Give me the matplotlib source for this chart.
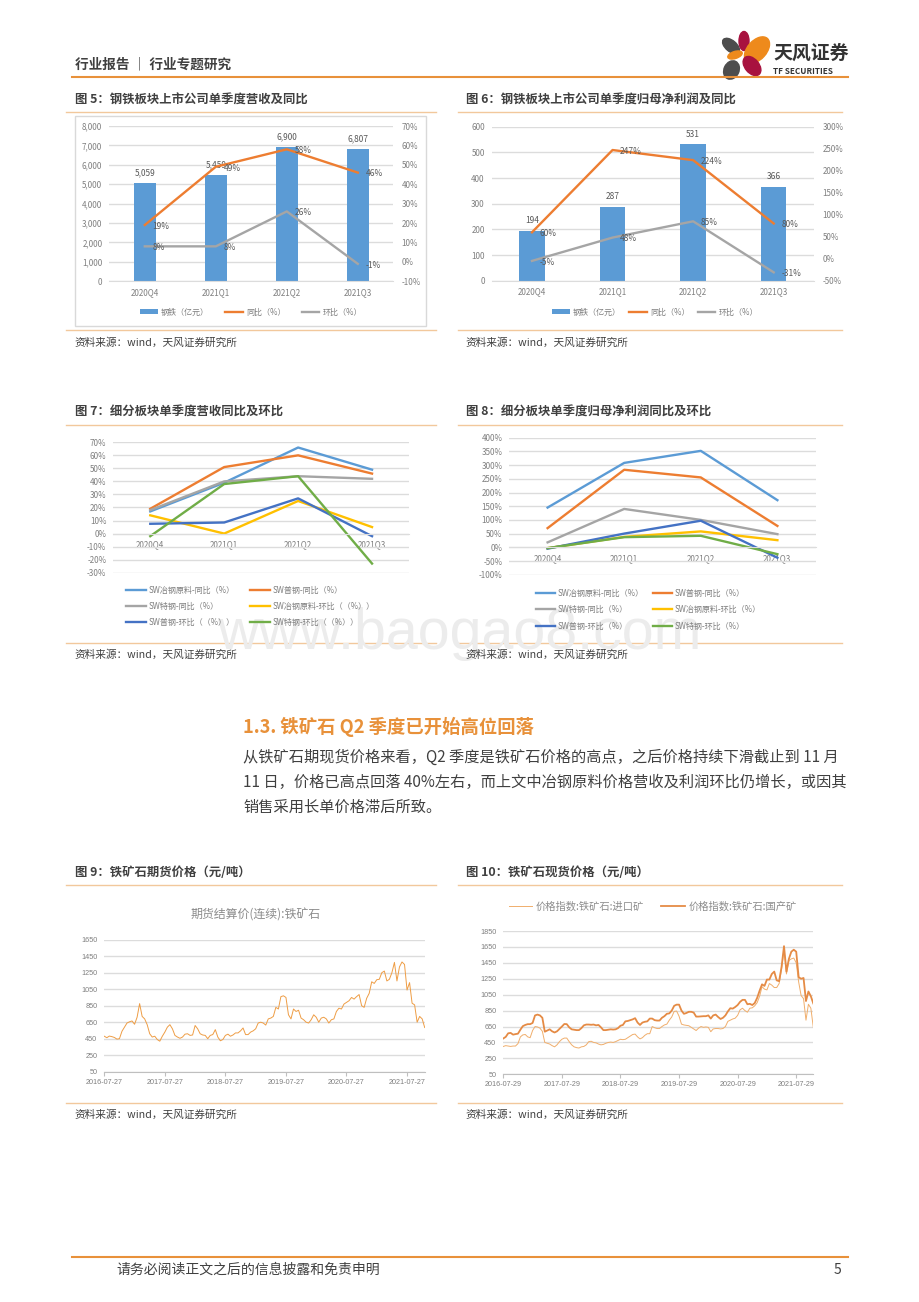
import numpy as np
import pandas as pd
import matplotlib
matplotlib.use('Agg')
import matplotlib.pyplot as plt
from matplotlib.patches import Ellipse, Rectangle

plt.rcParams['font.family'] = ['Noto Sans CJK SC', 'DejaVu Sans']

FIG_W, FIG_H = 920, 1302
TEXT = '#404040'
TICK = '#7f7f7f'
GRID = '#dcdcdc'
ORANGE = '#e8913a'
PALE = '#f2c89c'

quarters = ['2020Q4', '2021Q1', '2021Q2', '2021Q3']

# figure 5
revenue = [5059, 5459, 6900, 6807]
revenue_yoy = [19, 49, 58, 46]
revenue_qoq = [8, 8, 26, -1]

# figure 6
profit = [194, 287, 531, 366]
profit_yoy = [60, 247, 224, 80]
profit_qoq = [-5, 48, 85, -31]

# figure 7
rev_raw_yoy = [17, 39, 66, 49]
rev_common_yoy = [19, 51, 60, 46]
rev_special_yoy = [18, 40, 44, 42]
rev_raw_qoq = [14, 0, 25, 5]
rev_common_qoq = [7.5, 8.5, 27, -2]
rev_special_qoq = [-2, 38, 44, -23]

# figure 8
pro_raw_yoy = [145, 308, 352, 172]
pro_common_yoy = [70, 283, 255, 78]
pro_special_yoy = [18, 140, 100, 48]
pro_raw_qoq = [-3, 38, 58, 26]
pro_common_qoq = [-5, 50, 97, -38]
pro_special_qoq = [-3, 37, 42, -25]

labels_rev = ['SW冶钢原料-同比（%）', 'SW普钢-同比（%）', 'SW特钢-同比（%）',
              'SW冶钢原料-环比（（%））', 'SW普钢-环比（（%））', 'SW特钢-环比（（%））']
labels_pro = ['SW冶钢原料-同比（%）', 'SW普钢-同比（%）', 'SW特钢-同比（%）',
              'SW冶钢原料-环比（%）', 'SW普钢-环比（%）', 'SW特钢-环比（%）']
line_colors = ['#5b9bd5', '#ed7d31', '#a5a5a5', '#ffc000', '#4472c4', '#70ad47']

# figure 9, roughly twice a month
futures = [480, 462, 482, 475, 465, 445, 450, 540, 590, 640, 655, 665, 625, 710, 875, 720,
           690, 620, 510, 470, 480, 440, 420, 480, 530, 590, 620, 570, 490, 470, 455, 470,
           505, 510, 490, 495, 610, 570, 510, 495, 490, 450, 490, 500, 560, 470, 425, 440,
           490, 505, 480, 495, 520, 520, 545, 580, 500, 500, 530, 545, 570, 640, 650, 640,
           615, 690, 700, 720, 830, 810, 960, 970, 950, 740, 690, 810, 780, 795, 700, 680,
           650, 640, 680, 740, 710, 650, 700, 710, 690, 640, 680, 690, 780, 820, 810, 870,
           890, 910, 950, 930, 960, 985, 850, 830, 940, 1000, 1140, 1120, 1165, 1170, 1250, 1270,
           1150, 1170, 1250, 1375, 1150, 1320, 1380, 1350, 1040, 1130, 880, 860, 650, 720, 690, 585]

# figure 10, roughly twice a month
spot_import = [400, 410, 405, 400, 405, 405, 435, 520, 545, 550, 520, 510, 600, 650, 645, 630,
               590, 450, 440, 430, 410, 395, 420, 460, 490, 505, 505, 460, 420, 395, 385, 380,
               395, 400, 420, 460, 465, 450, 445, 430, 420, 425, 440, 450, 455, 450, 460, 475,
               490, 485, 490, 510, 530, 550, 555, 520, 495, 510, 540, 560, 560, 650, 635, 625,
               625, 650, 670, 680, 730, 770, 840, 845, 780, 680, 670, 665, 660, 640, 620, 600,
               630, 650, 640, 645, 640, 585, 620, 625, 625, 620, 625, 650, 715, 730, 745, 755,
               790, 860, 880, 850, 830, 880, 885, 910, 950, 1030, 1150, 1120, 1110, 1190, 1170, 1140,
               1140, 1190, 1370, 1620, 1310, 1480, 1500, 1510, 1450, 1210, 1040, 1000, 730, 930, 880, 640]
spot_domestic = [500, 520, 565, 570, 548, 555, 560, 610, 655, 670, 680, 680, 695, 790, 800, 790,
                 760, 585, 600, 615, 590, 575, 590, 620, 650, 682, 680, 640, 615, 610, 605, 605,
                 630, 665, 675, 675, 672, 675, 665, 670, 640, 605, 605, 610, 615, 612, 615, 630,
                 660, 670, 715, 720, 730, 740, 755, 700, 670, 700, 710, 715, 750, 750, 730, 725,
                 725, 760, 780, 810, 815, 850, 910, 925, 925, 850, 810, 820, 835, 835, 825, 775,
                 775, 778, 780, 780, 790, 750, 790, 800, 770, 745, 760, 790, 840, 880, 875, 895,
                 920, 960, 985, 985, 930, 935, 920, 945, 1010, 1100, 1180, 1160, 1240, 1240, 1310, 1340,
                 1230, 1220, 1400, 1660, 1340, 1500, 1590, 1615, 1590, 1270, 1250, 1260, 970, 1090, 1030, 940]

futures_ticks = ['2016-07-27', '2017-07-27', '2018-07-27', '2019-07-27', '2020-07-27', '2021-07-27']
spot_ticks = ['2016-07-29', '2017-07-29', '2018-07-29', '2019-07-29', '2020-07-29', '2021-07-29']

body_lines = ['从铁矿石期现货价格来看，Q2 季度是铁矿石价格的高点，之后价格持续下滑截止到 11 月',
              '11 日，价格已高点回落 40%左右，而上文中冶钢原料价格营收及利润环比仍增长，或因其',
              '销售采用长单价格滞后所致。']


# axes placed by pixel box on the page
def add_box(fig, left, top, right, bottom):
    ax = fig.add_axes([left / FIG_W, 1 - bottom / FIG_H, (right - left) / FIG_W, (bottom - top) / FIG_H])
    ax.patch.set_alpha(0)
    ax.set_zorder(2)
    return ax


def style_axis(ax, size=5.8):
    for side in ['top', 'left', 'right']:
        ax.spines[side].set_visible(False)
    ax.spines['bottom'].set_color(GRID)
    ax.tick_params(length=0, labelsize=size, labelcolor=TICK)
    ax.yaxis.grid(True, color=GRID, lw=1)
    ax.set_axisbelow(True)


def draw_page(page):
    page.set_xlim(0, FIG_W)
    page.set_ylim(FIG_H, 0)
    page.axis('off')

    # watermark
    page.text(459, 634, 'www.baogao8.com', color='#ececec', fontsize=41.3, family='Liberation Sans',
              ha='center', va='center')

    # header and logo
    page.text(75, 64, '行业报告 ｜ 行业专题研究', color=TEXT, fontsize=9.8, weight='bold', va='center')
    page.plot([72, 848], [77, 77], color=ORANGE, lw=1.5)
    page.add_patch(Ellipse((731, 46), 11, 20, angle=-50, color='#4d4d4d'))
    page.add_patch(Ellipse((744, 41), 10, 19, angle=0, color='#a8123f'))
    page.add_patch(Ellipse((757, 50), 19, 31, angle=42, color='#ee8a1c'))
    page.add_patch(Ellipse((735, 55), 7, 15, angle=72, color='#ee8a1c'))
    page.add_patch(Ellipse((752, 66), 14, 22, angle=-40, color='#a8123f'))
    page.add_patch(Ellipse((731.5, 70), 15, 19, angle=25, color='#4d4d4d'))
    page.text(773, 53, '天风证券', color='#333333', fontsize=13.6, weight='bold', va='center')
    page.text(773, 71, 'TF SECURITIES', color='#333333', fontsize=5.9, weight='bold', va='center')

    # figure titles, rules and source notes
    titles = [(75, 100, 112, 330, 343, 66, 436, '图 5：钢铁板块上市公司单季度营收及同比'),
              (466, 100, 112, 330, 343, 458, 842, '图 6：钢铁板块上市公司单季度归母净利润及同比'),
              (75, 412, 424.5, 642.5, 655, 66, 436, '图 7：细分板块单季度营收同比及环比'),
              (466, 412, 424.5, 642.5, 655, 458, 842, '图 8：细分板块单季度归母净利润同比及环比'),
              (75, 872, 884.5, 1102.5, 1115, 66, 436, '图 9：铁矿石期货价格（元/吨）'),
              (466, 872, 884.5, 1102.5, 1115, 458, 842, '图 10：铁矿石现货价格（元/吨）')]
    for x, y_title, y_top, y_bottom, y_source, x0, x1, title in titles:
        page.text(x, y_title, title, color=TEXT, fontsize=8.9, weight='bold', va='center')
        page.plot([x0, x1], [y_top, y_top], color=PALE, lw=1)
        page.plot([x0, x1], [y_bottom, y_bottom], color=PALE, lw=1)
        page.text(x - 0.5, y_source, '资料来源：wind，天风证券研究所', color=TEXT, fontsize=7.7, va='center')

    page.add_patch(Rectangle((75.5, 115.5), 351, 210.5, fill=False, ec='#d9d9d9', lw=1))

    # section text
    page.text(243, 727, '1.3. 铁矿石 Q2 季度已开始高位回落', color=ORANGE, fontsize=13.2, weight='bold', va='center')
    for y, line in zip([757, 782, 807], body_lines):
        page.text(243, y, line, color=TEXT, fontsize=10.95, va='center')

    # footer
    page.plot([72, 848], [1257, 1257], color=ORANGE, lw=1.5)
    page.text(116, 1270, '请务必阅读正文之后的信息披露和免责申明', color=TEXT, fontsize=10, va='center')
    page.text(837, 1270, '5', color=TEXT, fontsize=10, va='center', ha='center')


# bars on the left axis, yoy and qoq lines on the right axis
def draw_combo(fig, page, box, bars, yoy, qoq, left_lim, left_ticks, right_lim, right_ticks,
               bar_width, bar_fmt, legend_pos, col_space):
    ax = add_box(fig, *box)
    style_axis(ax)
    x = np.arange(len(quarters))
    bar = ax.bar(x, bars, width=bar_width, color='#5b9bd5', label='钢铁（亿元）')
    ax.bar_label(bar, labels=[bar_fmt.format(v) for v in bars], padding=4, fontsize=6, color='#595959')
    ax.set_xlim(-0.5, 3.5)
    ax.set_ylim(*left_lim)
    ax.set_yticks(left_ticks)
    ax.set_yticklabels(['{:,}'.format(v) for v in left_ticks])
    ax.set_xticks(x)
    ax.set_xticklabels(quarters)
    ax.tick_params(axis='x', pad=5)
    ax.tick_params(axis='y', pad=5)

    ax2 = ax.twinx()
    ax2.patch.set_alpha(0)
    for side in ['top', 'left', 'right', 'bottom']:
        ax2.spines[side].set_visible(False)
    ax2.tick_params(length=0, labelsize=5.8, labelcolor=TICK, pad=6)
    line1, = ax2.plot(x, yoy, color='#ed7d31', lw=1.7, label='同比（%）')
    line2, = ax2.plot(x, qoq, color='#a5a5a5', lw=1.7, label='环比（%）')
    ax2.set_ylim(*right_lim)
    ax2.set_yticks(right_ticks)
    ax2.set_yticklabels(['{}%'.format(v) for v in right_ticks])
    for series in [yoy, qoq]:
        for xi, v in zip(x, series):
            ax2.annotate('{}%'.format(v), (xi, v), xytext=(5.5, -1), textcoords='offset points',
                         fontsize=6, color='#595959', va='center')

    ax2.set_zorder(3)
    leg = ax2.legend([bar, line1, line2], ['钢铁（亿元）', '同比（%）', '环比（%）'], ncol=3, loc='center',
                     bbox_to_anchor=legend_pos, bbox_transform=page.transData, frameon=False, fontsize=5.8,
                     handlelength=2.2, handleheight=0.5, handletextpad=0.4, columnspacing=col_space, borderpad=0)
    for text in leg.get_texts():
        text.set_color(TICK)


# six lines with the category labels sitting on the zero line
def draw_lines(fig, page, box, series, names, y_lim, y_ticks, legend_pos, col_space, row_space):
    ax = add_box(fig, *box)
    style_axis(ax)
    x = np.arange(len(quarters))
    handles = []
    for values, color in zip(series, line_colors):
        line, = ax.plot(x, values, color=color, lw=1.7)
        handles.append(line)
    ax.set_xlim(-0.5, 3.5)
    ax.set_ylim(*y_lim)
    ax.set_yticks(y_ticks)
    ax.set_yticklabels(['{}%'.format(v) for v in y_ticks])
    ax.set_xticks(x)
    ax.set_xticklabels(quarters)
    ax.spines['bottom'].set_position(('data', 0))
    ax.tick_params(axis='x', pad=5)
    ax.tick_params(axis='y', pad=5)

    order = [0, 2, 4, 1, 3, 5]
    leg = ax.legend([handles[i] for i in order], [names[i] for i in order], ncol=2, loc='upper left',
                    bbox_to_anchor=legend_pos, bbox_transform=page.transData, frameon=False, fontsize=5.8,
                    handlelength=2.4, handletextpad=0.3, columnspacing=col_space, labelspacing=row_space,
                    borderpad=0, borderaxespad=0)
    for text in leg.get_texts():
        text.set_color(TICK)


# daily style price chart on a date axis
def draw_prices(fig, box, start, end, series, colors, widths, y_lim, y_ticks, tick_dates):
    ax = add_box(fig, *box)
    style_axis(ax, size=5.2)
    dates = pd.date_range(start, end, periods=len(series[0]))
    lines = []
    for values, color, lw in zip(series, colors, widths):
        line, = ax.plot(dates, values, color=color, lw=lw)
        lines.append(line)
    ax.set_xlim(pd.Timestamp(start), pd.Timestamp(end))
    ax.set_ylim(*y_lim)
    ax.set_yticks(y_ticks)
    ax.set_xticks(pd.to_datetime(tick_dates))
    ax.set_xticklabels(tick_dates)
    for label in ax.get_xticklabels() + ax.get_yticklabels():
        label.set_family('Liberation Sans')
    ax.spines['bottom'].set_color('#bfbfbf')
    ax.tick_params(axis='x', length=3, color='#bfbfbf', pad=2)
    ax.tick_params(axis='y', pad=5)
    return ax, lines


fig = plt.figure(figsize=(FIG_W / 100, FIG_H / 100), dpi=100)
page = fig.add_axes([0, 0, 1, 1])
page.set_zorder(1)
draw_page(page)

draw_combo(fig, page, (109.3, 126, 393.3, 281.3), revenue, revenue_yoy, revenue_qoq,
           (0, 8000), list(range(0, 8001, 1000)), (-10, 70), list(range(-10, 71, 10)),
           0.305, '{:,}', (251, 312), 2.0)
draw_combo(fig, page, (491.7, 126.7, 814, 280.7), profit, profit_yoy, profit_qoq,
           (0, 600), list(range(0, 601, 100)), (-50, 300), list(range(-50, 301, 50)),
           0.314, '{}', (655, 312), 1.0)

draw_lines(fig, page, (113.3, 442.3, 409, 572.7),
           [rev_raw_yoy, rev_common_yoy, rev_special_yoy, rev_raw_qoq, rev_common_qoq, rev_special_qoq],
           labels_rev, (-30, 70), list(range(-30, 71, 10)), (126.5, 586), 2.0, 0.85)
draw_lines(fig, page, (509.3, 437.7, 815.7, 574.7),
           [pro_raw_yoy, pro_common_yoy, pro_special_yoy, pro_raw_qoq, pro_common_qoq, pro_special_qoq],
           labels_pro, (-100, 400), list(range(-100, 401, 50)), (536, 588.5), 1.1, 0.95)

draw_prices(fig, (104.3, 939.7, 424.7, 1071.7), '2016-07-27', '2021-11-11', [futures], ['#ee9d45'], [0.7],
            (50, 1650), list(range(50, 1651, 200)), futures_ticks)
page.text(255.7, 915, '期货结算价(连续):铁矿石', color='#8c8c8c', fontsize=8.6, ha='center', va='center')

ax10, lines10 = draw_prices(fig, (503.3, 931, 813.3, 1074.3), '2016-07-29', '2021-11-11',
                            [spot_import, spot_domestic], ['#f0ae6c', '#e58b45'], [0.7, 1.3],
                            (50, 1850), list(range(50, 1851, 200)), spot_ticks)
leg10 = ax10.legend(lines10, ['价格指数:铁矿石:进口矿', '价格指数:铁矿石:国产矿'], ncol=2, loc='center',
                    bbox_to_anchor=(652.5, 906.5), bbox_transform=page.transData, frameon=False, fontsize=7.4,
                    handlelength=2.3, handletextpad=0.35, columnspacing=1.65, borderpad=0, borderaxespad=0)
for text in leg10.get_texts():
    text.set_color('#8c8c8c')

fig.savefig('out.png', dpi=100)
plt.close(fig)
